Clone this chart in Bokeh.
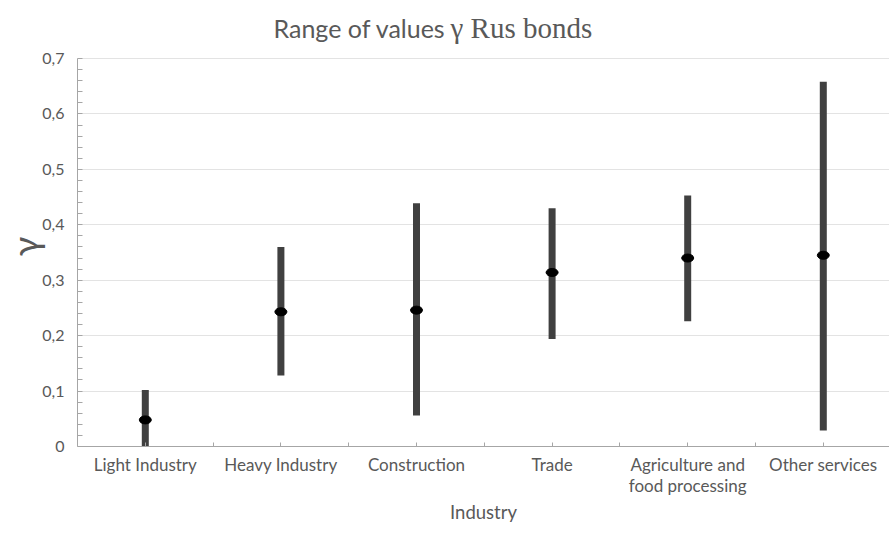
from bokeh.plotting import figure
from bokeh.models import FixedTicker, Label
from bokeh.embed import file_html
from bokeh.resources import INLINE

categories = ["Light Industry", "Heavy Industry", "Construction", "Trade",
              "Agriculture and\nfood processing", "Other services"]
low = [0.0, 0.128, 0.056, 0.194, 0.226, 0.029]
high = [0.102, 0.360, 0.439, 0.430, 0.453, 0.658]
mid = [0.048, 0.243, 0.246, 0.314, 0.340, 0.345]
y_ticks = [0.0, 0.1, 0.2, 0.3, 0.4, 0.5, 0.6, 0.7]
y_tick_labels = ["0", "0,1", "0,2", "0,3", "0,4", "0,5", "0,6", "0,7"]
title_parts = ["Range of values", "γ Rus bonds"]
x_title = "Industry"
y_title = "γ"

xs = list(range(len(categories)))

# layout geometry (pixels)
left = 69
frame_w, frame_h = 812, 446
top_tick_px = 58                      # frame y of the 0.7 grid line
title_base_px = 27                    # frame y of the title baseline
px_per_cat = 135.6
px_per_unit = (frame_h - top_tick_px) / 0.7
x_end = -0.5 + frame_w / px_per_cat
y_end = frame_h / px_per_unit

p = figure(frame_width=frame_w, frame_height=frame_h, output_backend="svg",
           toolbar_location=None,
           x_range=(-0.5, x_end), y_range=(0, y_end),
           min_border_left=left, min_border_right=0, min_border_top=0,
           min_border_bottom=40)
p.outline_line_color = None
p.background_fill_color = "white"

grid_color = "#e3e3e3"
axis_color = "#a6a6a6"
text_color = "#595959"

# x axis
xt = [i * 0.5 for i in range(0, 11)]
p.xaxis.ticker = FixedTicker(ticks=xt, minor_ticks=[])
p.xaxis.major_label_overrides = {v: (categories[int(v)] if float(v).is_integer() else "") for v in xt}
p.xaxis.major_tick_in = 4
p.xaxis.major_tick_out = 0
p.xaxis.minor_tick_line_color = None
p.xaxis.axis_line_color = axis_color
p.xaxis.major_tick_line_color = axis_color
p.xaxis.major_label_text_font = "Lato"
p.xaxis.major_label_text_font_size = "17px"
p.xaxis.major_label_text_color = text_color
p.xaxis.major_label_text_line_height = 1.0
p.xaxis.major_label_standoff = 7
p.xaxis.axis_label = x_title
p.xaxis.axis_label_text_font = "Lato"
p.xaxis.axis_label_text_font_style = "normal"
p.xaxis.axis_label_text_font_size = "18.5px"
p.xaxis.axis_label_text_color = text_color
p.xaxis.axis_label_text_line_height = 1.0
p.xaxis.axis_label_standoff = 2
p.xgrid.grid_line_color = None

# y axis
minor = [round(i * 0.02, 2) for i in range(0, 36)]
p.yaxis.ticker = FixedTicker(ticks=y_ticks, minor_ticks=minor)
p.yaxis.bounds = (0, 0.7)
p.yaxis.major_label_overrides = {v: l for v, l in zip(y_ticks, y_tick_labels)}
p.yaxis.major_tick_in = 0
p.yaxis.major_tick_out = 0
p.yaxis.minor_tick_in = 5
p.yaxis.minor_tick_out = 0
p.yaxis.minor_tick_line_color = axis_color
p.yaxis.axis_line_color = axis_color
p.yaxis.major_label_text_font = "Lato"
p.yaxis.major_label_text_font_size = "16px"
p.yaxis.major_label_text_color = text_color
p.yaxis.major_label_standoff = 13
# non-breaking padding re-centres the rotated label on the 0..0.7 span
p.yaxis.axis_label = y_title + "\u00a0" * 5
p.yaxis.axis_label_text_font = "Lato"
p.yaxis.axis_label_text_font_style = "normal"
p.yaxis.axis_label_text_font_size = "36px"
p.yaxis.axis_label_text_color = text_color
p.yaxis.axis_label_standoff = -8
p.ygrid.grid_line_color = grid_color
p.ygrid.ticker = FixedTicker(ticks=y_ticks)

# ranges
p.segment(x0=xs, y0=low, x1=xs, y1=high, line_width=7, line_color="#404040",
          line_cap="butt")
p.ellipse(x=xs, y=mid, width=12, height=8, width_units="screen",
          height_units="screen", fill_color="black", line_color="black")

# title (mixed fonts), placed inside the frame above the plotted range
def fx(canvas_x):
    return -0.5 + (canvas_x - left) / px_per_cat

def fy(canvas_y):
    return (frame_h - canvas_y) / px_per_unit

t1 = Label(x=fx(265), y=fy(title_base_px), text=title_parts[0], text_font="Lato",
           text_font_size="25px", text_color=text_color, text_baseline="alphabetic")
t2 = Label(x=fx(442), y=fy(title_base_px), text=title_parts[1], text_font="Liberation Serif",
           text_font_size="29px", text_color=text_color, text_baseline="alphabetic")
p.add_layout(t1)
p.add_layout(t2)

open("out.html", "w").write(file_html(p, INLINE))
